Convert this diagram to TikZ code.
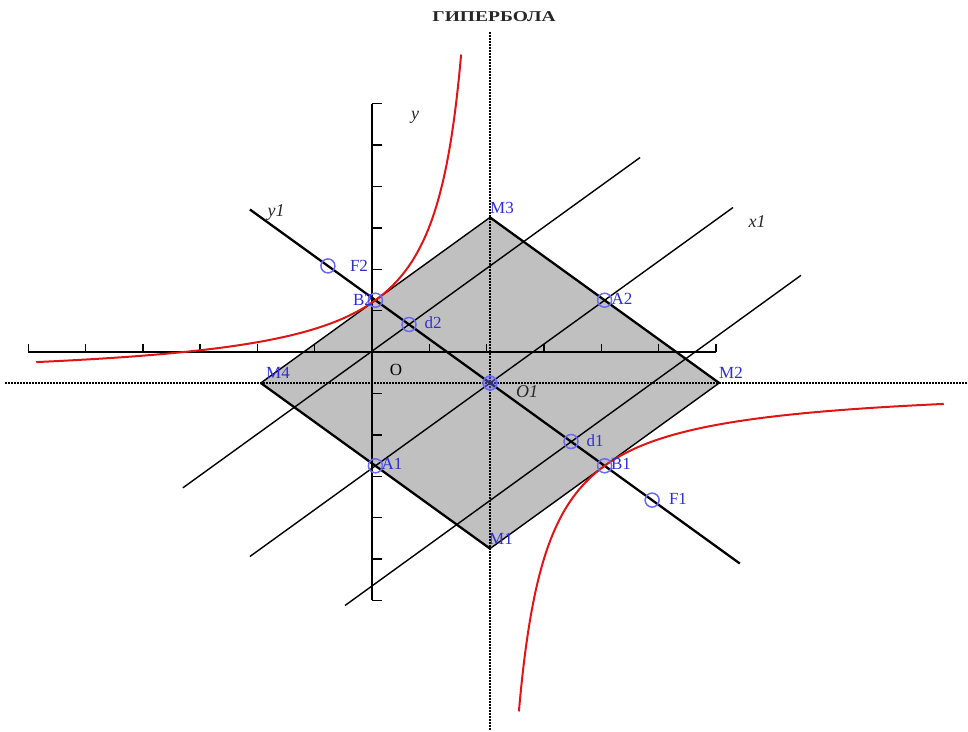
\documentclass[tikz,border=0pt]{standalone}
\usepackage{fontspec}
\setmainfont{Liberation Serif}
\definecolor{gfill}{RGB}{192,192,192}
\definecolor{hred}{RGB}{225,20,20}
\definecolor{ptblue}{RGB}{105,105,245}
\definecolor{lblblue}{RGB}{45,45,215}
\begin{document}
\begin{tikzpicture}[x=1pt,y=-1pt,
  thickline/.style={line width=2.3pt, black},
  thinline/.style={line width=1.4pt, black},
  axisline/.style={line width=2.3pt, black},
  tickline/.style={line width=1.4pt, black},
  dotaxis/.style={line width=2.2pt, black, dash pattern=on 1.5pt off 1.5pt},
  curve/.style={line width=2pt, hred},
  ptmark/.style={circle, draw=ptblue, line width=1.5pt, minimum size=14pt, inner sep=0pt},
  ptlabel/.style={text=lblblue, font=\fontsize{17}{17}\selectfont, inner sep=0pt},
  axlabel/.style={font=\fontsize{18}{18}\selectfont\itshape, inner sep=0pt, text=black!85}
]
\useasboundingbox (0,0) rectangle (968,731);
% key points (pixel coordinates)
\coordinate (O) at (372,352);
\coordinate (O1) at (490,383);
\coordinate (M1) at (490,548.6);
\coordinate (M2) at (719.2,383);
\coordinate (M3) at (490,217.4);
\coordinate (M4) at (260.8,383);
\coordinate (A1) at (375.4,465.8);
\coordinate (A2) at (604.6,300.2);
\coordinate (B1) at (604.6,465.8);
\coordinate (B2) at (375.4,300.2);
\coordinate (F1) at (652.1,500.1);
\coordinate (F2) at (327.9,265.9);
\coordinate (d1) at (571.0,441.5);
\coordinate (d2) at (409.0,324.5);
% line ends
\coordinate (hL) at (5,383);
\coordinate (hR) at (968,383);
\coordinate (vT) at (490,32);
\coordinate (vB) at (490,731);
\coordinate (y1s) at (249.9,209.5);
\coordinate (y1e) at (739.8,563.5);
\coordinate (x1s) at (249.9,556.5);
\coordinate (x1e) at (733,207.5);
\coordinate (L1s) at (182.9,487.8);
\coordinate (L1e) at (640.1,157.5);
\coordinate (L3s) at (345,605.5);
\coordinate (L3e) at (801,275.3);
\coordinate (xaL) at (28.2,352);
\coordinate (xaR) at (715.8,352);
\coordinate (yaT) at (372,103.6);
\coordinate (yaB) at (372,600.4);
% grey square
\fill[gfill] (M1) -- (M2) -- (M3) -- (M4) -- cycle;
% dotted asymptotes
\draw[dotaxis] (hL) -- (hR);
\draw[dotaxis] (vT) -- (vB);
% square edges
\draw[thinline] (M4) -- (M3);
\draw[thickline] (M3) -- (M2);
\draw[thinline] (M1) -- (M2);
\draw[thickline] (M4) -- (M1);
% rotated axes and directrices
\draw[thickline] (y1s) -- (y1e);
\draw[thinline] (x1s) -- (x1e);
\draw[thinline] (L1s) -- (L1e);
\draw[thinline] (L3s) -- (L3e);
% old axes
\draw[axisline] (xaL) -- (xaR);
\draw[axisline] (yaT) -- (yaB);
\foreach \k in {-6,-5,-4,-3,-2,-1,1,2,3,4,5,6}{
  \draw[tickline] ({372+57.3*\k},352) -- ++(0,-8);
  \draw[tickline] (372,{352-41.4*\k}) -- ++(10,0);
}
% hyperbola
\draw[curve] plot[domain=-1.378:1.378, samples=200, variable=\s] ({490-114.6*exp(\s)}, {383-82.8*exp(-\s)});
\draw[curve] plot[domain=-1.378:1.378, samples=200, variable=\s] ({490+114.6*exp(\s)}, {383+82.8*exp(-\s)});
% point markers
\node[ptmark] (mA1) at (A1) {};
\node[ptmark] (mA2) at (A2) {};
\node[ptmark] (mB1) at (B1) {};
\node[ptmark] (mB2) at (B2) {};
\node[ptmark] (mF1) at (F1) {};
\node[ptmark] (mF2) at (F2) {};
\node[ptmark] (md1) at (d1) {};
\node[ptmark] (md2) at (d2) {};
\node[ptmark, fill=ptblue, fill opacity=0.45] (mO1) at (O1) {};
% point labels
\node[ptlabel] (lA1) at (392,464) {A1};
\node[ptlabel] (lA2) at (622,299) {A2};
\node[ptlabel] (lB1) at (621,464) {B1};
\node[ptlabel] (lB2) at (363,300) {B2};
\node[ptlabel] (lF1) at (678,499) {F1};
\node[ptlabel] (lF2) at (359,266) {F2};
\node[ptlabel] (ld1) at (595,441) {d1};
\node[ptlabel] (ld2) at (433,323) {d2};
\node[ptlabel] (lM1) at (501,539) {M1};
\node[ptlabel] (lM2) at (731,373) {M2};
\node[ptlabel] (lM3) at (502,208) {M3};
\node[ptlabel] (lM4) at (278,373) {M4};
% axis labels
\node[axlabel] (ly) at (415,117) {y};
\node[axlabel] (lx1) at (757,222) {x1};
\node[axlabel] (ly1) at (276,212) {y1};
\node[axlabel] (lO1) at (527,392) {O1};
\node[font=\fontsize{17}{17}\selectfont, inner sep=0pt] (lO) at (396,370) {O};
% title
\node[font=\fontsize{15}{15}\selectfont\bfseries, inner sep=0pt, text=black!85] (title) at (494,17) {\scalebox{1.3}[1]{ГИПЕРБОЛА}};
\end{tikzpicture}
\end{document}
